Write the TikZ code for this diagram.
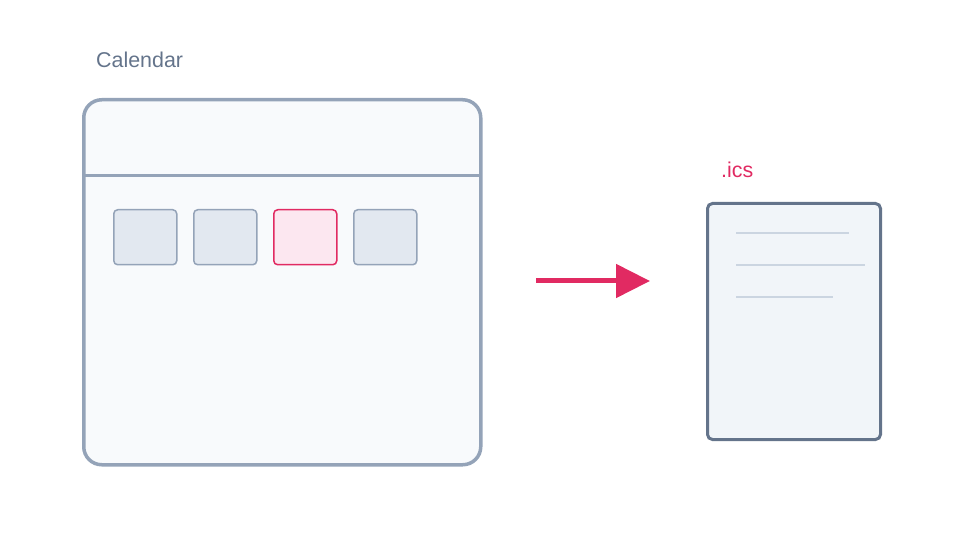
\documentclass[tikz,border=0pt]{standalone}
\usepackage{fontspec}
\setmainfont{Liberation Sans}
\usepackage{tikz}
\usetikzlibrary{positioning}
\usetikzlibrary{arrows.meta}

\definecolor{slateline}{HTML}{94A3B8}
\definecolor{slatedark}{HTML}{64748B}
\definecolor{panelfill}{HTML}{F8FAFC}
\definecolor{cellfill}{HTML}{E2E8F0}
\definecolor{docfill}{HTML}{F1F5F9}
\definecolor{docline}{HTML}{CBD5E1}
\definecolor{accent}{HTML}{E12A62}
\definecolor{accentfill}{HTML}{FCE7F0}

\tikzset{
  daycell/.style={draw=slateline, fill=cellfill, line width=1.5bp, rounded corners=4bp,
    minimum width=63bp, minimum height=55bp, anchor=north west, inner sep=0pt},
  textline/.style={draw=docline, line width=2bp},
  caption/.style={font=\fontsize{21.5}{25}\selectfont, anchor=base west, inner sep=0pt}
}

\begin{document}
\begin{tikzpicture}[x=1bp, y=-1bp]
 \useasboundingbox (0,0) rectangle (960,560);

 % calendar window
 \node[draw=slateline, fill=panelfill, line width=3.5bp, rounded corners=18bp,
   minimum width=397bp, minimum height=365bp, anchor=north west, inner sep=0pt] (cal) at (82,98) {};
 \draw[slateline, line width=3bp] (82,176) -- (479,176);
 \node[caption, text=slatedark] (caltitle) at (96,68) {Calendar};

 % days
 \node[daycell] (day1) at (113,209) {};
 \node[daycell] (day2) at (193,209) {};
 \node[daycell, draw=accent, fill=accentfill] (day3) at (273,209) {};
 \node[daycell] (day4) at (353,209) {};

 % export arrow
 \coordinate (exfrom) at (536,281);
 \coordinate (exto) at (650,281);
 \draw[accent, line width=5bp, -{Triangle[length=34bp, width=33bp]}] (exfrom) -- (exto);

 % ics file
 \node[draw=slatedark, fill=docfill, line width=3bp, rounded corners=5bp,
   minimum width=173bp, minimum height=236bp, anchor=north west, inner sep=0pt] (ics) at (706,202) {};
 \node[caption, text=accent] (icstitle) at (721,178) {.ics};
 \draw[textline] (736,233) -- (849,233);
 \draw[textline] (736,265) -- (865,265);
 \draw[textline] (736,297) -- (833,297);

\end{tikzpicture}
\end{document}
